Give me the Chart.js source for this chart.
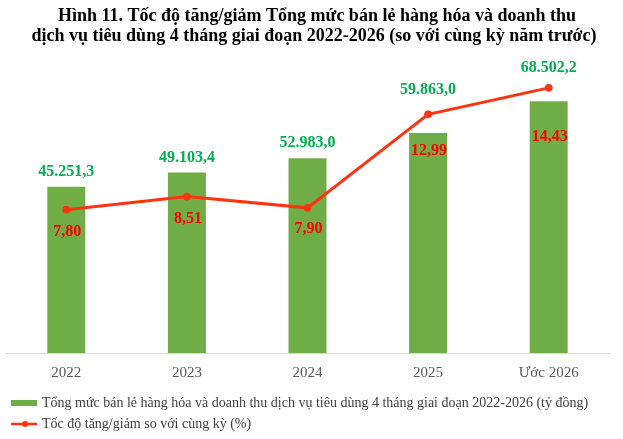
<!DOCTYPE html>
<html>
<head>
<meta charset="utf-8">
<script src="https://cdn.jsdelivr.net/npm/chart.js@4.4.1/dist/chart.umd.min.js"></script>
<style>
  html, body { margin: 0; padding: 0; background: #fff; }
  #wrap { width: 623px; height: 439px; }
</style>
</head>
<body>
<div id="wrap"><canvas id="retailChart" width="623" height="439"></canvas></div>
<script>
// Chart data
const years = ['2022', '2023', '2024', '2025', 'Ước 2026'];
const retailTotal = [45251.3, 49103.4, 52983.0, 59863.0, 68502.2];
const growthRate = [7.80, 8.51, 7.90, 12.99, 14.43];

const titleLines = [
    'Hình 11. Tốc độ tăng/giảm Tổng mức bán lẻ hàng hóa và doanh thu',
    'dịch vụ tiêu dùng 4 tháng giai đoạn 2022-2026 (so với cùng kỳ năm trước)'
];
const barLabel = 'Tổng mức bán lẻ hàng hóa và doanh thu dịch vụ tiêu dùng 4 tháng giai đoạn 2022-2026 (tỷ đồng)';
const lineLabel = 'Tốc độ tăng/giảm so với cùng kỳ (%)';

// label placement (px from the mark), as in the original figure
const barLabelLift = [15, 15, 15, 43, 33];
const lineLabelDrop = [22, 22, 21, 37, 49];

const GREEN = '#70ad47';
const GREEN_TEXT = '#00b050';
const RED_LINE = '#ff3311';
const RED_TEXT = '#ff0000';
const SERIF = "'Liberation Serif', 'Times New Roman', serif";

// vietnamese number format: 45.251,3
function fmtNumber(v, digits) {
    const parts = v.toFixed(digits).split('.');
    parts[0] = parts[0].replace(/\B(?=(\d{3})+(?!\d))/g, '.');
    return parts.join(',');
}

// little legend swatches
function swatch(kind) {
    const c = document.createElement('canvas');
    c.width = 26;
    c.height = 10;
    const g = c.getContext('2d');
    if (kind === 'bar') {
        g.fillStyle = GREEN;
        g.fillRect(0, 2, 26, 6);
    } else {
        g.strokeStyle = RED_LINE;
        g.lineWidth = 2.5;
        g.beginPath();
        g.moveTo(0, 5);
        g.lineTo(26, 5);
        g.stroke();
        g.fillStyle = RED_LINE;
        g.beginPath();
        g.arc(14, 5, 3, 0, Math.PI * 2);
        g.fill();
    }
    return c;
}

// two-line heading, drawn a little right of the canvas centre like the source
const heading = {
    id: 'heading',
    afterDraw(chart) {
        const ctx = chart.ctx;
        ctx.save();
        ctx.fillStyle = '#000';
        ctx.textAlign = 'center';
        ctx.textBaseline = 'alphabetic';
        ctx.font = 'bold 18px ' + SERIF;
        ctx.fillText(titleLines[0], 317, 21);
        ctx.fillText(titleLines[1], 314, 40.5);
        ctx.restore();
    }
};

const valueLabels = {
    id: 'valueLabels',
    afterDatasetsDraw(chart) {
        const ctx = chart.ctx;
        ctx.save();
        ctx.textAlign = 'center';
        ctx.textBaseline = 'middle';
        ctx.font = 'bold 16px ' + SERIF;

        chart.getDatasetMeta(0).data.forEach((bar, i) => {
            ctx.fillStyle = GREEN_TEXT;
            ctx.fillText(fmtNumber(retailTotal[i], 1), bar.x, bar.y - barLabelLift[i]);
        });
        chart.getDatasetMeta(1).data.forEach((pt, i) => {
            ctx.fillStyle = RED_TEXT;
            ctx.fillText(fmtNumber(growthRate[i], 2), pt.x + 1, pt.y + lineLabelDrop[i]);
        });
        ctx.restore();
    }
};

const chartData = {
    labels: years,
    datasets: [
        {
            type: 'bar',
            label: barLabel,
            data: retailTotal,
            backgroundColor: GREEN,
            yAxisID: 'y',
            barPercentage: 0.315,
            categoryPercentage: 1,
            order: 1
        },
        {
            type: 'line',
            label: lineLabel,
            data: growthRate,
            borderColor: RED_LINE,
            backgroundColor: RED_LINE,
            borderWidth: 3,
            pointRadius: 3.5,
            pointBorderWidth: 1,
            pointBackgroundColor: RED_LINE,
            pointBorderColor: RED_LINE,
            tension: 0,
            fill: false,
            yAxisID: 'y1',
            order: 0
        }
    ]
};

const chartConfig = {
    data: chartData,
    options: {
        responsive: false,
        animation: false,
        layout: {
            padding: { left: 6, right: 14, top: 59, bottom: -2 }
        },
        scales: {
            x: {
                grid: { display: false, drawTicks: false },
                border: { display: true, color: '#d9d9d9', width: 1 },
                ticks: {
                    color: '#595959',
                    font: { family: SERIF, size: 15 },
                    padding: 11
                },
                afterFit(scale) {
                    scale.height = 36;
                }
            },
            y: {
                display: false,
                min: 0,
                max: 80000
            },
            y1: {
                display: false,
                min: 0,
                max: 16
            }
        },
        plugins: {
            title: { display: false },
            legend: {
                position: 'bottom',
                align: 'start',
                labels: {
                    color: '#404040',
                    font: { family: SERIF, size: 14 },
                    usePointStyle: true,
                    pointStyleWidth: 22,
                    padding: 7,
                    sort: (a, b) => a.datasetIndex - b.datasetIndex,
                    generateLabels(chart) {
                        return chart.data.datasets.map((ds, i) => ({
                            text: ds.label,
                            datasetIndex: i,
                            fontColor: '#404040',
                            pointStyle: swatch(ds.type),
                            lineWidth: 0,
                            hidden: false
                        }));
                    }
                }
            },
            tooltip: { enabled: false }
        }
    },
    plugins: [valueLabels, heading]
};

// Render the chart
const ctx = document.getElementById('retailChart').getContext('2d');
new Chart(ctx, chartConfig);
</script>
</body>
</html>
